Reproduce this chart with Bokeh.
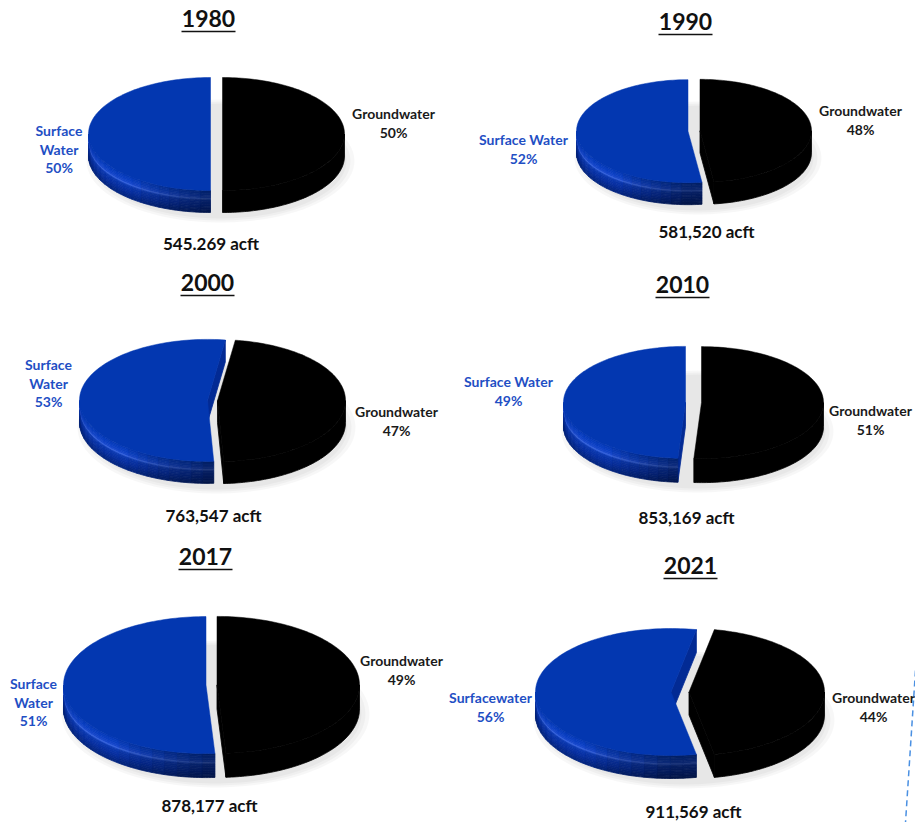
import numpy as np
from bokeh.plotting import figure
from bokeh.models import Range1d, ColumnDataSource
from bokeh.core.properties import value
from bokeh.embed import file_html
from bokeh.resources import INLINE

# ---------------- data ----------------
years = ["1980", "1990", "2000", "2010", "2017", "2021"]
surface_pct = [50, 52, 53, 49, 51, 56]
ground_pct = [50, 48, 47, 51, 49, 44]
total_acft = ["545.269", "581,520", "763,547", "853,169", "878,177", "911,569"]
surface_names = ["Surface\nWater", "Surface Water", "Surface\nWater",
                 "Surface Water", "Surface\nWater", "Surfacewater"]
ground_names = ["Groundwater"] * 6

# ---------------- layout (pixels) ----------------
pie_cx = [216, 693.5, 212, 693, 211, 679.5]
pie_cy = [133.5, 130.5, 400, 402, 684.5, 691.5]
pie_rx = [122, 111.5, 128, 122, 142.5, 135.5]
pie_ry = [56.5, 51.5, 61, 56, 68.5, 63.5]
pie_depth = [22, 22, 22, 24, 24, 23]
pie_explode = [6, 6, 5, 8, 5.5, 9]
pie_start = [0, 0, 8, 0, 0, 10.8]

title_x = [208, 685, 207, 682, 205, 690]
title_y = [18, 21, 282, 284, 556, 565]
total_x = [210.5, 706, 213, 686, 209, 693]
total_y = [243, 231, 515, 517, 805, 811]
surf_x = [58.5, 523, 48, 508, 33, 490]
surf_y = [130, 139, 364, 381, 683, 697]
ground_x = [393, 860, 396, 870, 401, 873]
ground_y = [113, 110, 411, 410, 660, 697]
line_gap = 18.5
underline_half = 27
underline_dy = 13
dash_line_x = [915, 905]
dash_line_y = [670, 822]

BLUE_TOP = "#0337b0"
BLUE_CUT = "#022a94"
BLUE_TEXT = "#1f4fc4"
FONT = "Lato"

p = figure(width=915, height=822, x_range=Range1d(0, 915), y_range=Range1d(822, 0),
           output_backend="svg", toolbar_location=None,
           x_axis_type=None, y_axis_type=None, min_border=0,
           outline_line_color=None, background_fill_color="white",
           border_fill_color="white")
p.grid.visible = False


def arc(cx, cy, rx, ry, a0, a1, n, dy=0.0):
    th = np.radians(np.linspace(a0, a1, n))
    return cx + rx * np.sin(th), cy - ry * np.cos(th) + dy


def hex2rgb(h):
    h = h.lstrip("#")
    return np.array([int(h[i:i + 2], 16) for i in (0, 2, 4)], dtype=float)


def rgb2hex(c):
    c = np.clip(c, 0, 255)
    return "#%02x%02x%02x" % tuple(int(v) for v in c)


# vertical colour profile of the blue side wall (fraction of depth -> colour)
prof_f = [0.0, 0.18, 0.33, 0.40, 0.47, 0.70, 1.0]
prof_c = [hex2rgb(c) for c in ["#0538b4", "#0a3fc2", "#1848cc", "#3562dc", "#0b38b0", "#072fa0", "#04257f"]]


def side_col(fr, shade):
    for k in range(len(prof_f) - 1):
        if prof_f[k] <= fr <= prof_f[k + 1]:
            t = (fr - prof_f[k]) / (prof_f[k + 1] - prof_f[k])
            return rgb2hex((prof_c[k] * (1 - t) + prof_c[k + 1] * t) * shade)
    return rgb2hex(prof_c[-1] * shade)


shadow = dict(xs=[], ys=[], c=[], a=[])
walls = dict(xs=[], ys=[], c=[])
tops = dict(xs=[], ys=[], c=[])

nrows = 14
row_edges = np.linspace(0, 1, nrows + 1)

for i in range(len(years)):
    cx, cy, rx, ry = pie_cx[i], pie_cy[i], pie_rx[i], pie_ry[i]
    d, e, s = pie_depth[i], pie_explode[i], pie_start[i]
    g_ang = 360.0 * ground_pct[i] / (ground_pct[i] + surface_pct[i])

    # soft shadow under the pie
    for grow in [10, 6, 2]:
        sx, sy = arc(cx + 4, cy + d + 5, rx + e + grow - 4, ry + grow * 0.5, 0, 360, 90)
        shadow["xs"].append(list(sx)); shadow["ys"].append(list(sy))
        shadow["c"].append("#000000"); shadow["a"].append(0.03)

    slices = [(s + g_ang, s + 360.0, "blue"), (s, s + g_ang, "black")]
    for a0, a1, kind in slices:
        m = np.radians((a0 + a1) / 2)
        ccx = cx + e * np.sin(m)
        ccy = cy - e * np.cos(m) * ry / rx
        cut_col = BLUE_CUT if kind == "blue" else "#000000"
        for a, vis in ((a0, np.sin(np.radians(a0)) < -1e-6), (a1, np.sin(np.radians(a1)) > 1e-6)):
            if vis:
                ex, ey = arc(ccx, ccy, rx, ry, a, a, 1)
                walls["xs"].append([ccx, ex[0], ex[0], ccx])
                walls["ys"].append([ccy, ey[0], ey[0] + d, ccy + d])
                walls["c"].append(cut_col)
        lo, hi = max(a0, 90.0), min(a1, 270.0)
        if hi > lo:
            if kind == "black":
                tx, ty = arc(ccx, ccy, rx, ry, lo, hi, 80)
                bx, by = arc(ccx, ccy, rx, ry, lo, hi, 80, d)
                walls["xs"].append(list(tx) + list(bx[::-1]))
                walls["ys"].append(list(ty) + list(by[::-1]))
                walls["c"].append("#000000")
            else:
                ncol = 18
                edges = np.linspace(lo, hi, ncol + 1)
                for c in range(ncol):
                    t0, t1 = edges[c], edges[c + 1]
                    tm = (t0 + t1) / 2
                    f = 1.0 - 0.45 * np.clip(1 - (tm - 180.0) / 40.0, 0, 1)
                    f *= 1.0 - 0.10 * np.clip((tm - 240.0) / 30.0, 0, 1)
                    for r in range(nrows):
                        tx, ty = arc(ccx, ccy, rx, ry, t0, t1, 5, d * row_edges[r])
                        bx, by = arc(ccx, ccy, rx, ry, t0, t1, 5, d * row_edges[r + 1])
                        walls["xs"].append(list(tx) + list(bx[::-1]))
                        walls["ys"].append(list(ty) + list(by[::-1]))
                        walls["c"].append(side_col((row_edges[r] + row_edges[r + 1]) / 2, f))
        tx, ty = arc(ccx, ccy, rx, ry, a0, a1, 120)
        tops["xs"].append([ccx] + list(tx))
        tops["ys"].append([ccy] + list(ty))
        tops["c"].append(BLUE_TOP if kind == "blue" else "#000000")

p.patches(xs="xs", ys="ys", fill_color="c", fill_alpha="a", line_color=None,
          source=ColumnDataSource(shadow))
p.patches(xs="xs", ys="ys", fill_color="c", line_color="c", line_width=0.8,
          source=ColumnDataSource(walls))
p.patches(xs="xs", ys="ys", fill_color="c", line_color="c", line_width=0.5,
          source=ColumnDataSource(tops))

# ---------------- texts ----------------
p.text(x=title_x, y=title_y, text=years, text_font=value(FONT), text_font_style="bold",
       text_font_size="23px", text_align="center", text_baseline="middle", text_color="#111111")
p.segment(x0=[x - underline_half for x in title_x], y0=[y + underline_dy for y in title_y],
          x1=[x + underline_half for x in title_x], y1=[y + underline_dy for y in title_y],
          line_color="#111111", line_width=1.5)

p.text(x=total_x, y=total_y, text=[t + " acft" for t in total_acft], text_font=value(FONT),
       text_font_style="bold", text_font_size="17px", text_align="center",
       text_baseline="middle", text_color="#111111")

sx, sy, st = [], [], []
gx, gy, gt = [], [], []
for i in range(len(years)):
    lines = surface_names[i].split("\n") + ["%d%%" % surface_pct[i]]
    for k, ln in enumerate(lines):
        sx.append(surf_x[i]); sy.append(surf_y[i] + k * line_gap); st.append(ln)
    glines = ground_names[i].split("\n") + ["%d%%" % ground_pct[i]]
    for k, ln in enumerate(glines):
        gx.append(ground_x[i]); gy.append(ground_y[i] + k * line_gap); gt.append(ln)

p.text(x=sx, y=sy, text=st, text_font=value(FONT), text_font_style="bold",
       text_font_size="14px", text_align="center", text_baseline="middle", text_color=BLUE_TEXT)
p.text(x=gx, y=gy, text=gt, text_font=value(FONT), text_font_style="bold",
       text_font_size="14px", text_align="center", text_baseline="middle", text_color="#1a1a1a")

p.line(x=dash_line_x, y=dash_line_y, line_color="#4a90e2", line_width=1.5, line_dash="6 4")

open("out.html", "w").write(file_html(p, INLINE))
